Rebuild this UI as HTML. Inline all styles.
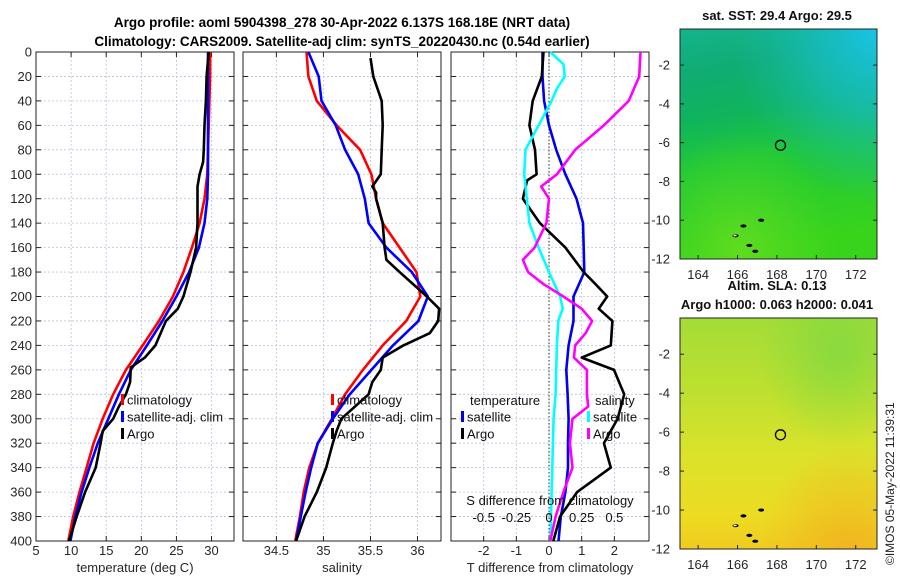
<!DOCTYPE html>
<html><head><meta charset="utf-8"><style>
html,body{margin:0;padding:0;background:#fff;}
svg{display:block;font-family:"Liberation Sans","DejaVu Sans",sans-serif;}
</style></head><body>
<svg id="fig" width="900" height="580" viewBox="0 0 900 580" xmlns="http://www.w3.org/2000/svg">
<defs>
<linearGradient id="sstg" x1="0" y1="0" x2="0.15" y2="1">
<stop offset="0" stop-color="#14b48c"/><stop offset="0.2" stop-color="#10ac74"/><stop offset="0.4" stop-color="#10b45c"/><stop offset="0.6" stop-color="#20c838"/><stop offset="1" stop-color="#38d41c"/>
</linearGradient>
<radialGradient id="sstc" cx="1" cy="0" r="0.75">
<stop offset="0" stop-color="#18c4e8"/><stop offset="0.45" stop-color="#18bcc0" stop-opacity="0.75"/><stop offset="1" stop-color="#18b8a0" stop-opacity="0"/>
</radialGradient>
<radialGradient id="sstl" cx="0.3" cy="0.95" r="0.5">
<stop offset="0" stop-color="#70e020" stop-opacity="0.7"/><stop offset="1" stop-color="#60dc20" stop-opacity="0"/>
</radialGradient>
<linearGradient id="slag" x1="0" y1="0" x2="0" y2="1">
<stop offset="0" stop-color="#a4dc38"/><stop offset="0.3" stop-color="#bce030"/><stop offset="0.6" stop-color="#dce22a"/><stop offset="0.85" stop-color="#ecdc22"/><stop offset="1" stop-color="#f0cc20"/>
</linearGradient>
<radialGradient id="slagr" cx="0.8" cy="0.15" r="0.4">
<stop offset="0" stop-color="#80d840" stop-opacity="0.8"/><stop offset="1" stop-color="#80d840" stop-opacity="0"/>
</radialGradient>
<radialGradient id="slao" cx="0.85" cy="1" r="0.45">
<stop offset="0" stop-color="#f0b020" stop-opacity="0.8"/><stop offset="1" stop-color="#f0b020" stop-opacity="0"/>
</radialGradient>
</defs>
<text x="342" y="27" font-size="13.5" font-weight="bold" text-anchor="middle" fill="#000">Argo profile: aoml 5904398_278 30-Apr-2022 6.137S 168.18E (NRT data)</text>
<text x="342" y="46" font-size="13.5" font-weight="bold" text-anchor="middle" fill="#000">Climatology: CARS2009. Satellite-adj clim: synTS_20220430.nc (0.54d earlier)</text>
<g id="layer"></g>
<text transform="translate(894,565) rotate(-90)" font-size="12" fill="#222">©IMOS 05-May-2022 11:39:31</text>
</svg>
<script>
// ---- data ----
const depths = [0,20,40,60,80,100,120,140,160,180,200,220,240,260,280,300,320,340,360,380,400];
const tempClim = [29.8,29.8,29.7,29.6,29.5,29.4,29.0,28.3,27.2,26.0,24.5,22.5,20.2,17.8,16.0,14.5,13.2,12.2,11.2,10.3,9.6];
const tempSat  = [29.5,29.5,29.5,29.5,29.5,29.5,29.4,29.0,28.2,26.8,25.0,23.0,20.8,18.5,16.8,15.3,13.8,12.6,11.5,10.6,9.9];
const argoDepths = [0,20,40,60,80,90,100,110,120,140,160,180,200,210,220,240,250,258,270,280,290,300,310,320,340,360,380,400];
const tempArgo = [29.6,29.3,29.2,29.0,28.9,28.8,28.3,28.0,28.0,28.0,27.8,27.0,26.0,25.2,23.5,22.0,20.5,18.5,18.4,17.8,16.8,16.0,14.5,14.2,13.5,12.0,10.8,9.7];
const salClim = [34.82,34.84,34.93,35.14,35.39,35.51,35.56,35.63,35.81,35.99,36.03,35.88,35.63,35.42,35.23,35.09,34.94,34.85,34.79,34.75,34.70];
const salSat  = [34.84,34.95,34.98,35.13,35.23,35.37,35.44,35.48,35.67,35.94,36.11,36.01,35.74,35.51,35.28,35.10,34.94,34.87,34.81,34.76,34.71];
const salArgo = [35.50,35.53,35.62,35.63,35.62,35.61,35.52,35.56,35.56,35.63,35.65,35.67,35.81,36.10,36.23,36.22,36.13,35.85,35.63,35.61,35.52,35.48,35.19,35.14,35.10,35.03,34.93,34.80,34.71];
const salArgoDepths = [5,20,40,60,80,100,110,115,120,140,160,170,180,200,210,220,230,240,250,260,270,280,300,310,320,340,360,380,400];
const dTsat  = [-0.2,-0.2,-0.15,0,0.22,0.5,0.84,1.04,1.06,1.08,0.75,0.75,0.6,0.53,0.57,0.6,0.58,0.58,0.5,0.36,0.29];
const dTargo = [-0.17,-0.22,-0.5,-0.6,-0.43,-0.38,-0.67,-0.8,-0.28,0.5,1.06,1.43,1.78,1.52,1.94,1.89,1.0,1.99,2.3,2.1,1.68,1.89,0.86,0.34,0.13];
const dTargoDepths = [0,20,40,60,80,100,105,120,140,160,180,190,200,210,220,240,250,260,280,300,320,340,360,380,400];
const dSsat  = [0.01,0.11,0.12,0.06,0.02,-0.08,-0.18,-0.19,-0.17,-0.15,-0.08,0,0.085,0.105,0.07,0.06,0.055,0.05,0.035,0.03,0.025,0.02,0.015,0.012];
const dSsatDepths = [0,10,20,30,40,60,80,100,120,140,160,180,200,210,220,240,260,280,300,320,340,360,380,400];
const dSargo = [0.70,0.69,0.61,0.42,0.20,0.06,-0.06,0,-0.02,-0.11,-0.20,-0.16,-0.04,0.11,0.25,0.33,0.28,0.20,0.19,0.29,0.29,0.30,0.18,0.16,0.18,0.11,0.05,0.01];
const dSargoDepths = [0,20,40,60,80,100,110,120,140,160,170,180,190,200,210,220,230,240,250,260,280,290,300,320,340,360,380,400];
const depthTicks = [0,20,40,60,80,100,120,140,160,180,200,220,240,260,280,300,320,340,360,380,400];
const tempTicks = [5,10,15,20,25,30];
const salTicks = [34.5,35,35.5,36];
const dTTicks = [-2,-1,0,1,2];
const dSTicks = [-0.5,-0.25,0,0.25,0.5];
const dSLabels = ["-0.5","-0.25","0","0.25","0.5"];
const lonTicks = [164,166,168,170,172];
const latTicks = [-2,-4,-6,-8,-10,-12];
const argoLon = 168.18, argoLat = -6.137;

// ---- helpers ----
const NS="http://www.w3.org/2000/svg";
const layer=document.getElementById('layer');
function mk(tag,attrs,parent){const e=document.createElementNS(NS,tag);for(const k in attrs)e.setAttribute(k,attrs[k]);(parent||layer).appendChild(e);return e;}
const Y0=52,Y1=541;
const yDepth=d=>Y0+(d/400)*(Y1-Y0);
function xs(x0,x1,v0,v1){return v=>x0+(v-v0)/(v1-v0)*(x1-x0);}
const TEXT="#262626";

function panel(name,x0,x1,sx,xticks,xlabels,xtitle,showY){
  const g=mk('g',{});
  
  
  depthTicks.forEach(d=>{
    const l=mk('line',{x1:x0,x2:x1,y1:yDepth(d),y2:yDepth(d),stroke:'#b8c4dc','stroke-width':0.8,'stroke-dasharray':'2,2'},g);
    
    mk('line',{x1:x0,x2:x0+5,y1:yDepth(d),y2:yDepth(d),stroke:'#222'},g);
    mk('line',{x1:x1-5,x2:x1,y1:yDepth(d),y2:yDepth(d),stroke:'#222'},g);
    if(showY){const t=mk('text',{x:x0-4,y:yDepth(d)+4.5,'font-size':13,'text-anchor':'end',fill:TEXT},g);t.textContent=d;
      }
  });
  xticks.forEach((v,i)=>{
    const x=sx(v);
    const l=mk('line',{x1:x,x2:x,y1:Y0,y2:Y1,stroke:'#b8c4dc','stroke-width':0.8,'stroke-dasharray':'2,2'},g);
    
    mk('line',{x1:x,x2:x,y1:Y1,y2:Y1-5,stroke:'#222'},g);
    mk('line',{x1:x,x2:x,y1:Y0,y2:Y0+5,stroke:'#222'},g);
    const t=mk('text',{x:x,y:555,'font-size':13,'text-anchor':'middle',fill:TEXT},g);t.textContent=xlabels[i];
    
  });
  const r=mk('rect',{x:x0,y:Y0,width:x1-x0,height:Y1-Y0,fill:'none',stroke:'#222','stroke-width':1},g);
  
  const tt=mk('text',{x:(x0+x1)/2,y:572,'font-size':13,'text-anchor':'middle',fill:TEXT},g);tt.textContent=xtitle;
  
  return g;
}
function line(g,name,vals,deps,sx,color){
  const pts=vals.map((v,i)=>sx(v).toFixed(1)+','+yDepth(deps[i]).toFixed(1)).join(' ');
  const p=mk('polyline',{points:pts,fill:'none',stroke:color,'stroke-width':2.6,'stroke-linejoin':'round'},g);
  
  
}
function legend(g,x,y,items){
  items.forEach((it,i)=>{
    const yy=y+i*17;
    mk('rect',{x:x,y:yy-6,width:3,height:11,fill:it[1]},g);
    const t=mk('text',{x:x+6,y:yy+4.5,'font-size':13,fill:'#111'},g);t.textContent=it[0];
    
  });
}

// Panel 1 temperature
const sxT=xs(36,234,5,33.2);
const p1=panel('temperature-panel',36,234,sxT,tempTicks,tempTicks.map(String),'temperature (deg C)',true);
line(p1,'temp-climatology-line',tempClim,depths,sxT,'#ff0000');
line(p1,'temp-satellite-line',tempSat,depths,sxT,'#0000ff');
line(p1,'temp-argo-line',tempArgo,argoDepths,sxT,'#000000');
legend(p1,121,400,[['climatology','#ff0000'],['satellite-adj. clim','#0000ff'],['Argo','#000']]);

// Panel 2 salinity
const sxS=xs(243,441,34.145,36.25);
const p2=panel('salinity-panel',243,441,sxS,salTicks,salTicks.map(String),'salinity',false);
line(p2,'sal-climatology-line',salClim,depths,sxS,'#ff0000');
line(p2,'sal-satellite-line',salSat,depths,sxS,'#0000ff');
line(p2,'sal-argo-line',salArgo,salArgoDepths,sxS,'#000000');
legend(p2,331,400,[['climatology','#ff0000'],['satellite-adj. clim','#0000ff'],['Argo','#000']]);

// Panel 3 differences
const sxD=xs(451,649,-3,3.06);
const sxDS=v=>sxD(v*4);
const p3=panel('difference-panel',451,649,sxD,dTTicks,dTTicks.map(String),'T difference from climatology',false);
mk('line',{x1:sxD(0),x2:sxD(0),y1:Y0,y2:Y1,stroke:'#333','stroke-width':1,'stroke-dasharray':'1.5,2'},p3);
line(p3,'dT-satellite-line',dTsat,depths,sxD,'#0000ee');
line(p3,'dT-argo-line',dTargo,dTargoDepths,sxD,'#000000');
line(p3,'dS-satellite-line',dSsat,dSsatDepths,sxDS,'#00ffff');
line(p3,'dS-argo-line',dSargo,dSargoDepths,sxDS,'#ff00ff');
{
  let t=mk('text',{x:470,y:405,'font-size':13,fill:'#111'},p3);t.textContent='temperature';
  
  t=mk('text',{x:595,y:405,'font-size':13,fill:'#111'},p3);t.textContent='salinity';
  
  legend(p3,461,417,[['satellite','#0000ee'],['Argo','#000']]);
  legend(p3,587,417,[['satellite','#00ffff'],['Argo','#ff00ff']]);
  t=mk('text',{x:550,y:505,'font-size':13,'text-anchor':'middle',fill:'#111'},p3);t.textContent='S difference from climatology';
  
  dSTicks.forEach((v,i)=>{const tt=mk('text',{x:sxDS(v),y:522,'font-size':13,'text-anchor':'middle',fill:'#111'},p3);tt.textContent=dSLabels[i];
    });
}

// Maps
function map(name,y0,y1,kind,title1,title2){
  const x0=680,x1=877;
  const sLon=xs(x0,x1,163.08,173.08);
  const sLat=v=>y0+(-0.14-v)/(11.86)*(y1-y0);
  const g=mk('g',{});
  
  
  const W=x1-x0,H=y1-y0;
  if(kind==='sst'){
    mk('rect',{x:x0,y:y0,width:W,height:H,fill:'url(#sstg)'},g);
    mk('rect',{x:x0,y:y0,width:W,height:H,fill:'url(#sstc)'},g);
    mk('rect',{x:x0,y:y0,width:W,height:H,fill:'url(#sstl)'},g);
  } else {
    mk('rect',{x:x0,y:y0,width:W,height:H,fill:'url(#slag)'},g);
    mk('rect',{x:x0,y:y0,width:W,height:H,fill:'url(#slagr)'},g);
    mk('rect',{x:x0,y:y0,width:W,height:H,fill:'url(#slao)'},g);
  }
  mk('rect',{x:x0,y:y0,width:W,height:H,fill:'none',stroke:'#222'},g);
  latTicks.forEach(v=>{const y=sLat(v);
    mk('line',{x1:x0,x2:x0+4,y1:y,y2:y,stroke:'#222'},g);mk('line',{x1:x1-4,x2:x1,y1:y,y2:y,stroke:'#222'},g);
    const t=mk('text',{x:x0-10,y:y+4.5,'font-size':13,'text-anchor':'end',fill:TEXT},g);t.textContent=v;
    });
  lonTicks.forEach(v=>{const x=sLon(v);
    mk('line',{x1:x,x2:x,y1:y1,y2:y1-4,stroke:'#222'},g);
    const t=mk('text',{x:x,y:y1+20,'font-size':13,'text-anchor':'middle',fill:TEXT},g);t.textContent=v;
    });
  const c=mk('circle',{cx:sLon(argoLon),cy:sLat(argoLat),r:5,fill:'none',stroke:'#000','stroke-width':1.3},g);
  
  [[165.9,-10.8],[166.9,-11.6],[166.6,-11.3],[167.2,-10],[166.3,-10.3]].forEach(p=>mk('ellipse',{cx:sLon(p[0]),cy:sLat(p[1]),rx:3,ry:1.6,fill:'#000'},g));
  mk('rect',{x:sLon(165.9)-2,y:sLat(-10.8)-1,width:3,height:1.6,fill:'#fff'},g);
  const t1=mk('text',{x:777,y:y0-(title2?28:9),'font-size':13,'font-weight':'bold','text-anchor':'middle',fill:'#111'},g);t1.textContent=title1;
  
  if(title2){const t2=mk('text',{x:777,y:y0-9,'font-size':13,'font-weight':'bold','text-anchor':'middle',fill:'#111'},g);t2.textContent=title2;
    }
}
map('sst-map',29,259,'sst','sat. SST: 29.4 Argo: 29.5',null);
map('sla-map',318,549,'sla','Altim. SLA: 0.13','Argo h1000: 0.063 h2000: 0.041');
</script>
</body></html>
